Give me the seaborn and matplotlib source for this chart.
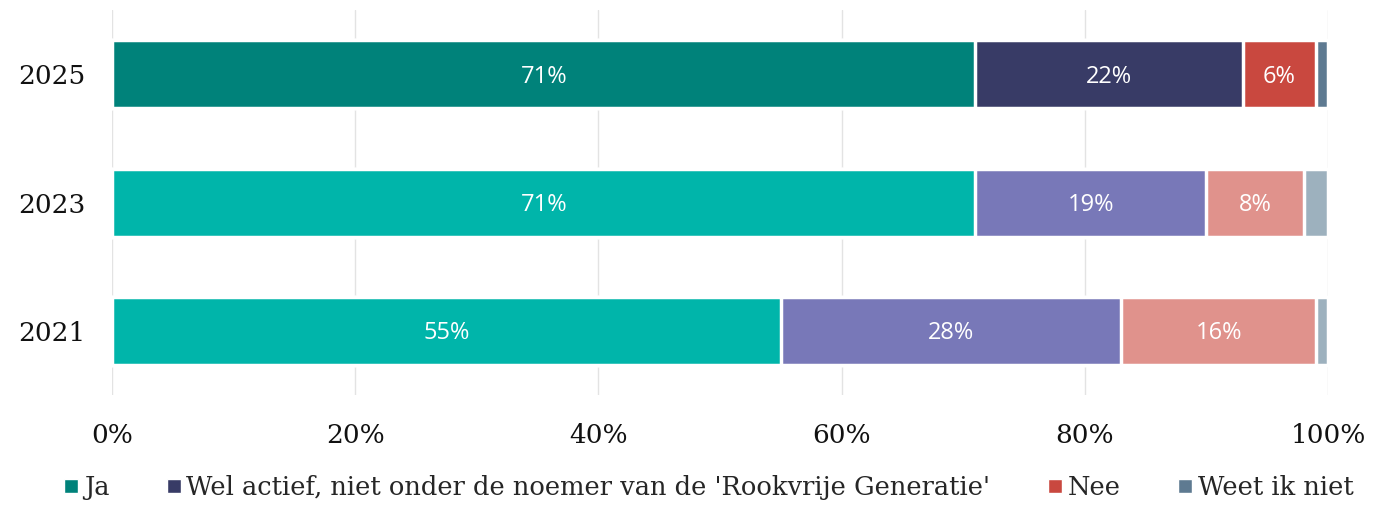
import matplotlib
matplotlib.use("Agg")
import matplotlib.pyplot as plt
from matplotlib.lines import Line2D
import seaborn as sns
import pandas as pd
import numpy as np

years = ["2025", "2023", "2021"]
series = ["Ja", "Wel actief, niet onder de noemer van de 'Rookvrije Generatie'", "Nee", "Weet ik niet"]
ja = [71, 71, 55]
wel = [22, 19, 28]
nee = [6, 8, 16]
weet = [1, 2, 1]
xticks = [0, 20, 40, 60, 80, 100]
xticklabels = ["0%", "20%", "40%", "60%", "80%", "100%"]

dark = ["#00827A", "#383B66", "#C9483F", "#5E7A91"]
light = ["#00B5AA", "#7878B8", "#E0928C", "#9DB1BE"]

sns.set_theme(style="white")
plt.rcParams["font.family"] = ["DejaVu Serif"]

fig = plt.figure(figsize=(14, 5.24), dpi=100)
ax = fig.add_axes([0.08, 0.246, 0.8686, 0.735])

vals = np.array([ja, wel, nee, weet], dtype=float)
cum = np.cumsum(vals, axis=0)

for i in range(3, -1, -1):
    df = pd.DataFrame({"year": years, "v": cum[i]})
    pal = {years[0]: dark[i], years[1]: light[i], years[2]: light[i]}
    sns.barplot(data=df, x="v", y="year", hue="year", palette=pal, order=years,
                hue_order=years, legend=False, ax=ax, width=0.53,
                edgecolor="white", linewidth=2.5, saturation=1, zorder=3)

for j, y in enumerate(years):
    for i in range(4):
        v = vals[i, j]
        if v >= 5:
            start = cum[i, j] - v
            ax.text(start + v / 2, j + 0.02, f"{int(v)}%", ha="center", va="center",
                    color="white", fontsize=17, family=["Open Sans", "DejaVu Sans"], zorder=5)

ax.set_xlim(0, 100)
ax.set_ylim(2.5, -0.5)
ax.set_xticks(xticks)
ax.set_xticklabels(xticklabels)
ax.set_xlabel("")
ax.set_ylabel("")
ax.grid(axis="x", color="#e3e3e3", linewidth=1, zorder=0)
ax.set_axisbelow(True)
for s in ax.spines.values():
    s.set_visible(False)
ax.tick_params(axis="x", length=0, pad=20, labelsize=19, labelcolor="#111111")
ax.tick_params(axis="y", length=0, pad=19, labelsize=19, labelcolor="#111111")

handles = [Line2D([0], [0], marker="s", linestyle="", markersize=10,
                  markerfacecolor=c, markeredgecolor="white") for c in dark]
fig.legend(handles, series, loc="center", bbox_to_anchor=(0.505, 0.07), ncol=4,
           frameon=False, fontsize=18.5, handletextpad=0.1, columnspacing=2.1,
           handlelength=0.8)

fig.savefig("out.png", dpi=100)
